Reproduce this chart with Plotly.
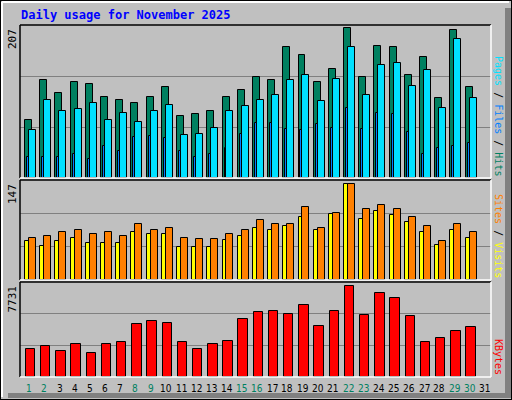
import plotly.graph_objects as go

days = list(range(1, 32))
hits = [79,132,115,130,127,110,105,101,109,123,84,86,91,110,119,137,132,177,166,130,148,203,137,179,177,139,164,108,200,123,None]
files = [65,106,91,94,102,79,88,76,90,99,58,59,68,90,97,105,112,132,139,104,134,177,112,153,156,124,146,95,188,108,None]
pages = [28,29,29,33,26,43,37,55,57,54,37,29,33,41,59,75,75,66,65,73,68,95,66,88,86,62,32,40,43,48,None]
sites = [58,50,58,62,55,55,55,70,67,67,48,48,48,59,64,76,74,80,92,73,97,141,89,101,95,86,70,52,73,62,None]
visits = [62,65,70,74,67,71,64,83,73,77,62,61,61,67,74,88,82,83,107,77,98,141,104,110,104,92,79,58,82,70,None]
kbytes = [2265,2499,2108,2655,1952,2655,2811,4295,4529,4373,2889,2265,2655,2967,4685,5310,5388,5154,5857,4139,5388,7419,5076,6872,6403,4998,2811,3202,3748,4061,None]
weekend = [1,2,8,9,15,16,22,23,29,30]
max_hits, max_visits, max_kb = 207, 147, 7731

W, H = 512, 400
def fx(px): return px / W
def fy(py): return 1 - py / H

L, R = 20, 491
panels = {"y": (25, 178), "y2": (180, 280), "y3": (282, 377)}

fig = go.Figure()
line = dict(color="black", width=1)
def bar(y, color, off, wd, axis):
    fig.add_trace(go.Bar(x=days, y=y, offset=off, width=wd, marker=dict(color=color, line=line),
                         yaxis=axis, xaxis="x", showlegend=False))
bar(hits, "#008060", -0.17, 0.46, "y")
bar(files, "#00E0FF", 0.09, 0.46, "y")
bar(pages, "#0080FF", -0.04, 0.13, "y")
bar(sites, "#FFFF00", -0.17, 0.3, "y2")
bar(visits, "#FF8000", 0.09, 0.46, "y2")
bar(kbytes, "#FF0000", -0.12, 0.62, "y3")

def yax(name, rng, dtick):
    top, bot = panels[name]
    return dict(domain=[fy(bot), fy(top)], range=[0, rng], dtick=dtick, showticklabels=False,
                gridcolor="#808080", gridwidth=1, zeroline=False, showline=False, fixedrange=True)

fig.update_layout(
    width=W, height=H, margin=dict(l=0, r=0, t=0, b=0),
    paper_bgcolor="#C0C0C0", plot_bgcolor="#C0C0C0", barmode="overlay", bargap=0,
    xaxis=dict(domain=[fx(L), fx(R)], range=[0.5, 31.5], showticklabels=False, showgrid=False,
               zeroline=False, anchor="y3"),
    yaxis=yax("y", max_hits, max_hits / 3),
    yaxis2=yax("y2", max_visits, max_visits / 3),
    yaxis3=yax("y3", max_kb, max_kb / 3),
    font=dict(family="DejaVu Sans Mono"),
)

shapes = []
shapes.append(dict(type="rect", xref="paper", yref="paper", x0=0, x1=1, y0=0, y1=1, line=dict(color="black", width=2)))
shapes.append(dict(type="line", xref="paper", yref="paper", x0=fx(2), x1=fx(509), y0=fy(2), y1=fy(2), line=dict(color="white", width=2)))
shapes.append(dict(type="line", xref="paper", yref="paper", x0=fx(2), x1=fx(2), y0=fy(2), y1=fy(397), line=dict(color="white", width=2)))
shapes.append(dict(type="rect", xref="paper", yref="paper", x0=fx(505), x1=fx(511), y0=fy(8), y1=fy(398), fillcolor="#808080", line=dict(width=0)))
shapes.append(dict(type="rect", xref="paper", yref="paper", x0=fx(8), x1=fx(511), y0=fy(393), y1=fy(398), fillcolor="#808080", line=dict(width=0)))
for top, bot in panels.values():
    shapes.append(dict(type="line", xref="paper", yref="paper", x0=fx(L), x1=fx(R), y0=fy(top), y1=fy(top), line=dict(color="black", width=1.5)))
    shapes.append(dict(type="line", xref="paper", yref="paper", x0=fx(L), x1=fx(L), y0=fy(top), y1=fy(bot), line=dict(color="black", width=1.5)))
    shapes.append(dict(type="line", xref="paper", yref="paper", x0=fx(L), x1=fx(R), y0=fy(bot), y1=fy(bot), line=dict(color="white", width=1.5)))
    shapes.append(dict(type="line", xref="paper", yref="paper", x0=fx(R), x1=fx(R), y0=fy(top), y1=fy(bot), line=dict(color="white", width=1.5)))
fig.update_layout(shapes=shapes)

ann = []
ann.append(dict(text="<b>Daily usage for November 2025</b>", x=fx(19), y=fy(15), xref="paper", yref="paper",
                xanchor="left", yanchor="middle", showarrow=False, font=dict(color="#0000FF", size=12, family="DejaVu Sans Mono")))
for val, (top, bot) in zip([max_hits, max_visits, max_kb], panels.values()):
    ann.append(dict(text=str(val), x=fx(12), y=fy(top + 2), xref="paper", yref="paper", textangle=-90,
                    xanchor="center", yanchor="top", showarrow=False, font=dict(color="black", size=11)))
rl = [("<span style='color:#00E0FF'>Pages</span><span style='color:black'> / </span><span style='color:#0080FF'>Files</span><span style='color:black'> / </span><span style='color:#008060'>Hits</span>", panels["y"]),
      ("<span style='color:#FF8000'>Sites</span><span style='color:black'> / </span><span style='color:#FFFF00'>Visits</span>", panels["y2"]),
      ("<span style='color:#FF0000'>KBytes</span>", panels["y3"])]
for t, (top, bot) in rl:
    ann.append(dict(text=t, x=fx(499), y=fy(bot), xref="paper", yref="paper", textangle=90,
                    xanchor="center", yanchor="bottom", showarrow=False, font=dict(size=10)))
for d in days:
    ann.append(dict(text=str(d), x=d + 0.1, y=fy(388), xref="x", yref="paper", showarrow=False,
                    xanchor="center", yanchor="middle",
                    font=dict(size=10, family="DejaVu Sans Condensed", color="#008060" if d in weekend else "black")))
fig.update_layout(annotations=ann)

fig.write_html("out.html", config={"displayModeBar": False},
               post_script="document.body.style.margin='0';document.body.style.overflow='hidden';")
